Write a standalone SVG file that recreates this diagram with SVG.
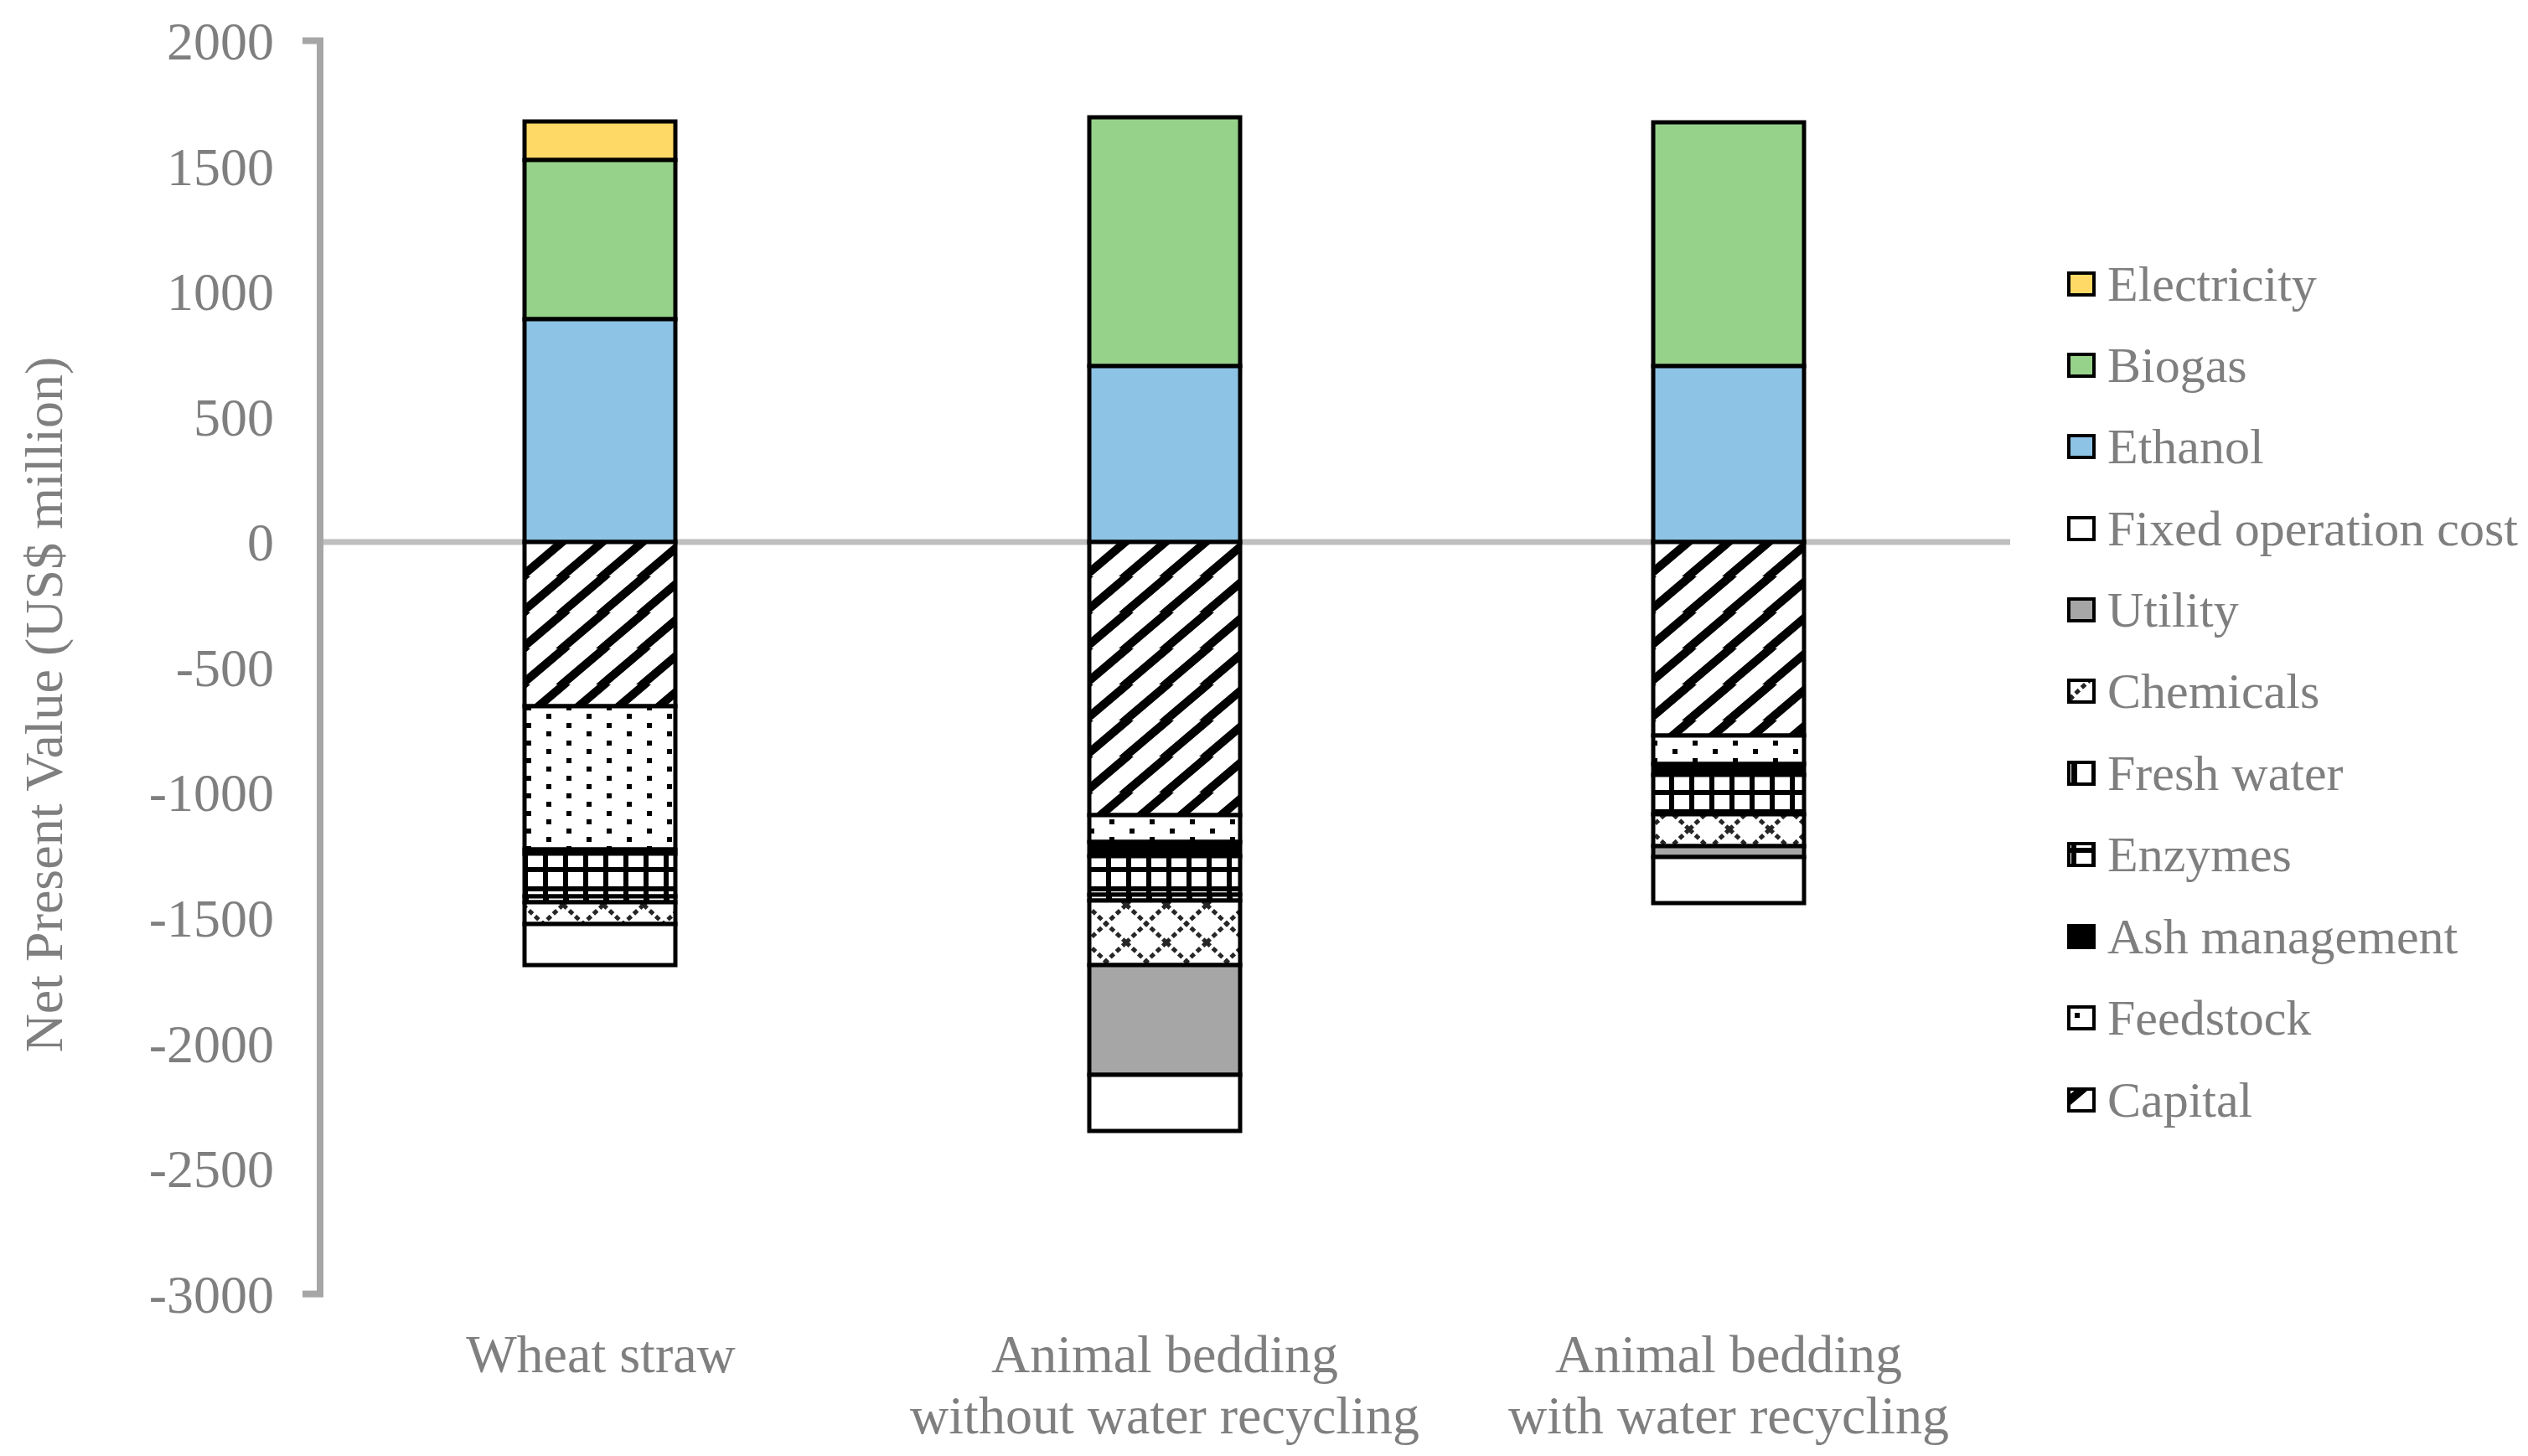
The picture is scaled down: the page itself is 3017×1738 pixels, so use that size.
<svg xmlns="http://www.w3.org/2000/svg" width="3017" height="1738" viewBox="0 0 3017 1738">
<style>
text{font-family:"Liberation Serif","Times New Roman",serif;fill:#7f7f7f}
.tk{font-size:64px;text-anchor:end}
.cat{font-size:64px;text-anchor:middle}
.lg{font-size:60px}
.seg{stroke:#000;stroke-width:5}
.sw{stroke:#000;stroke-width:4}
</style>
<defs>
<pattern id="capital" patternUnits="userSpaceOnUse" width="48" height="43">
<rect width="48" height="43" fill="#fff"/>
<path d="M-6,47 L54,-4 M-54,47 L6,-4 M42,47 L102,-4" stroke="#000" stroke-width="10"/>
</pattern>
<pattern id="feed" patternUnits="userSpaceOnUse" width="48" height="21">
<rect width="48" height="21" fill="#fff"/>
<rect x="4" y="2" width="6" height="6" fill="#000"/>
<rect x="28" y="12" width="6" height="6" fill="#000"/>
</pattern>
<pattern id="enz" patternUnits="userSpaceOnUse" width="24" height="23">
<rect width="24" height="23" fill="#fff"/>
<rect x="0" y="0" width="6" height="23" fill="#000"/>
<rect x="0" y="0" width="24" height="6" fill="#000"/>
</pattern>
<pattern id="fresh" patternUnits="userSpaceOnUse" width="24" height="20">
<rect width="24" height="20" fill="#fff"/>
<rect x="0" y="0" width="7" height="20" fill="#000"/>
</pattern>
<pattern id="chem" patternUnits="userSpaceOnUse" width="48" height="45">
<rect width="48" height="45" fill="#fff"/>
<path d="M0,0 L48,45 M48,0 L0,45" stroke="#262626" stroke-width="5" stroke-dasharray="6,4"/>
</pattern>
</defs>

<g id="axes">
<line x1="382" y1="647" x2="2399" y2="647" stroke="#BFBFBF" stroke-width="7"/>
<line x1="382" y1="48" x2="382" y2="1545" stroke="#A6A6A6" stroke-width="8"/>
<line x1="361" y1="48.6" x2="386" y2="48.6" stroke="#A6A6A6" stroke-width="8"/>
<line x1="361" y1="1544.6" x2="386" y2="1544.6" stroke="#A6A6A6" stroke-width="8"/>
<text class="tk" x="327" y="71">2000</text>
<text class="tk" x="327" y="221">1500</text>
<text class="tk" x="327" y="370">1000</text>
<text class="tk" x="327" y="520">500</text>
<text class="tk" x="327" y="669">0</text>
<text class="tk" x="327" y="819">-500</text>
<text class="tk" x="327" y="968">-1000</text>
<text class="tk" x="327" y="1118">-1500</text>
<text class="tk" x="327" y="1268">-2000</text>
<text class="tk" x="327" y="1417">-2500</text>
<text class="tk" x="327" y="1567">-3000</text>
<text x="0" y="0" font-size="64" text-anchor="middle" transform="translate(74,841) rotate(-90)">Net Present Value (US$ million)</text>
</g>

<g id="bar-wheat-straw">
<rect class="seg" x="626" y="145" width="180" height="46" fill="#FFD966"/>
<rect class="seg" x="626" y="191" width="180" height="190" fill="#97D28A"/>
<rect class="seg" x="626" y="381" width="180" height="266" fill="#8DC3E5"/>
<rect class="seg" x="626" y="647" width="180" height="196" fill="url(#capital)"/>
<rect class="seg" x="626" y="843" width="180" height="171" fill="url(#feed)"/>
<rect class="seg" x="626" y="1014" width="180" height="5" fill="#000"/>
<rect class="seg" x="626" y="1019" width="180" height="51" fill="url(#enz)"/>
<rect class="seg" x="626" y="1070" width="180" height="7" fill="url(#fresh)"/>
<rect class="seg" x="626" y="1077" width="180" height="26" fill="url(#chem)"/>
<rect class="seg" x="626" y="1103" width="180" height="49" fill="#fff"/>
</g>

<g id="bar-animal-bedding-no-recycling">
<rect class="seg" x="1300" y="140" width="180" height="297" fill="#97D28A"/>
<rect class="seg" x="1300" y="437" width="180" height="210" fill="#8DC3E5"/>
<rect class="seg" x="1300" y="647" width="180" height="326" fill="url(#capital)"/>
<rect class="seg" x="1300" y="973" width="180" height="32" fill="url(#feed)"/>
<rect class="seg" x="1300" y="1005" width="180" height="17" fill="#000"/>
<rect class="seg" x="1300" y="1022" width="180" height="46" fill="url(#enz)"/>
<rect class="seg" x="1300" y="1068" width="180" height="7" fill="url(#fresh)"/>
<rect class="seg" x="1300" y="1075" width="180" height="77" fill="url(#chem)"/>
<rect class="seg" x="1300" y="1152" width="180" height="131" fill="#A6A6A6"/>
<rect class="seg" x="1300" y="1283" width="180" height="67" fill="#fff"/>
</g>

<g id="bar-animal-bedding-recycling">
<rect class="seg" x="1973" y="146" width="180" height="291" fill="#97D28A"/>
<rect class="seg" x="1973" y="437" width="180" height="210" fill="#8DC3E5"/>
<rect class="seg" x="1973" y="647" width="180" height="231" fill="url(#capital)"/>
<rect class="seg" x="1973" y="878" width="180" height="34" fill="url(#feed)"/>
<rect class="seg" x="1973" y="912" width="180" height="13" fill="#000"/>
<rect class="seg" x="1973" y="925" width="180" height="47" fill="url(#enz)"/>
<rect class="seg" x="1973" y="972" width="180" height="38" fill="url(#chem)"/>
<rect class="seg" x="1973" y="1010" width="180" height="13" fill="#A6A6A6"/>
<rect class="seg" x="1973" y="1023" width="180" height="55" fill="#fff"/>
</g>

<g id="categories">
<text class="cat" x="717" y="1638">Wheat straw</text>
<text class="cat" x="1390" y="1638">Animal bedding</text>
<text class="cat" x="1390" y="1711">without water recycling</text>
<text class="cat" x="2063" y="1638">Animal bedding</text>
<text class="cat" x="2063" y="1711">with water recycling</text>
</g>

<g id="legend">
<rect class="sw" x="2469" y="326" width="30" height="26" fill="#FFD966"/><text class="lg" x="2515" y="359">Electricity</text>
<rect class="sw" x="2469" y="423" width="30" height="26" fill="#97D28A"/><text class="lg" x="2515" y="456">Biogas</text>
<rect class="sw" x="2469" y="520" width="30" height="26" fill="#8DC3E5"/><text class="lg" x="2515" y="553">Ethanol</text>
<rect class="sw" x="2469" y="618" width="30" height="26" fill="#fff"/><text class="lg" x="2515" y="651">Fixed operation cost</text>
<rect class="sw" x="2469" y="715" width="30" height="26" fill="#A6A6A6"/><text class="lg" x="2515" y="748">Utility</text>
<rect class="sw" x="2469" y="812" width="30" height="26" fill="url(#chem)"/><text class="lg" x="2515" y="845">Chemicals</text>
<rect class="sw" x="2469" y="910" width="30" height="26" fill="url(#fresh)"/><text class="lg" x="2515" y="943">Fresh water</text>
<rect class="sw" x="2469" y="1007" width="30" height="26" fill="url(#enz)"/><text class="lg" x="2515" y="1040">Enzymes</text>
<rect class="sw" x="2469" y="1105" width="30" height="26" fill="#000"/><text class="lg" x="2515" y="1138">Ash management</text>
<rect class="sw" x="2469" y="1202" width="30" height="26" fill="url(#feed)"/><text class="lg" x="2515" y="1235">Feedstock</text>
<rect class="sw" x="2469" y="1300" width="30" height="26" fill="url(#capital)"/><text class="lg" x="2515" y="1333">Capital</text>
</g>
</svg>
